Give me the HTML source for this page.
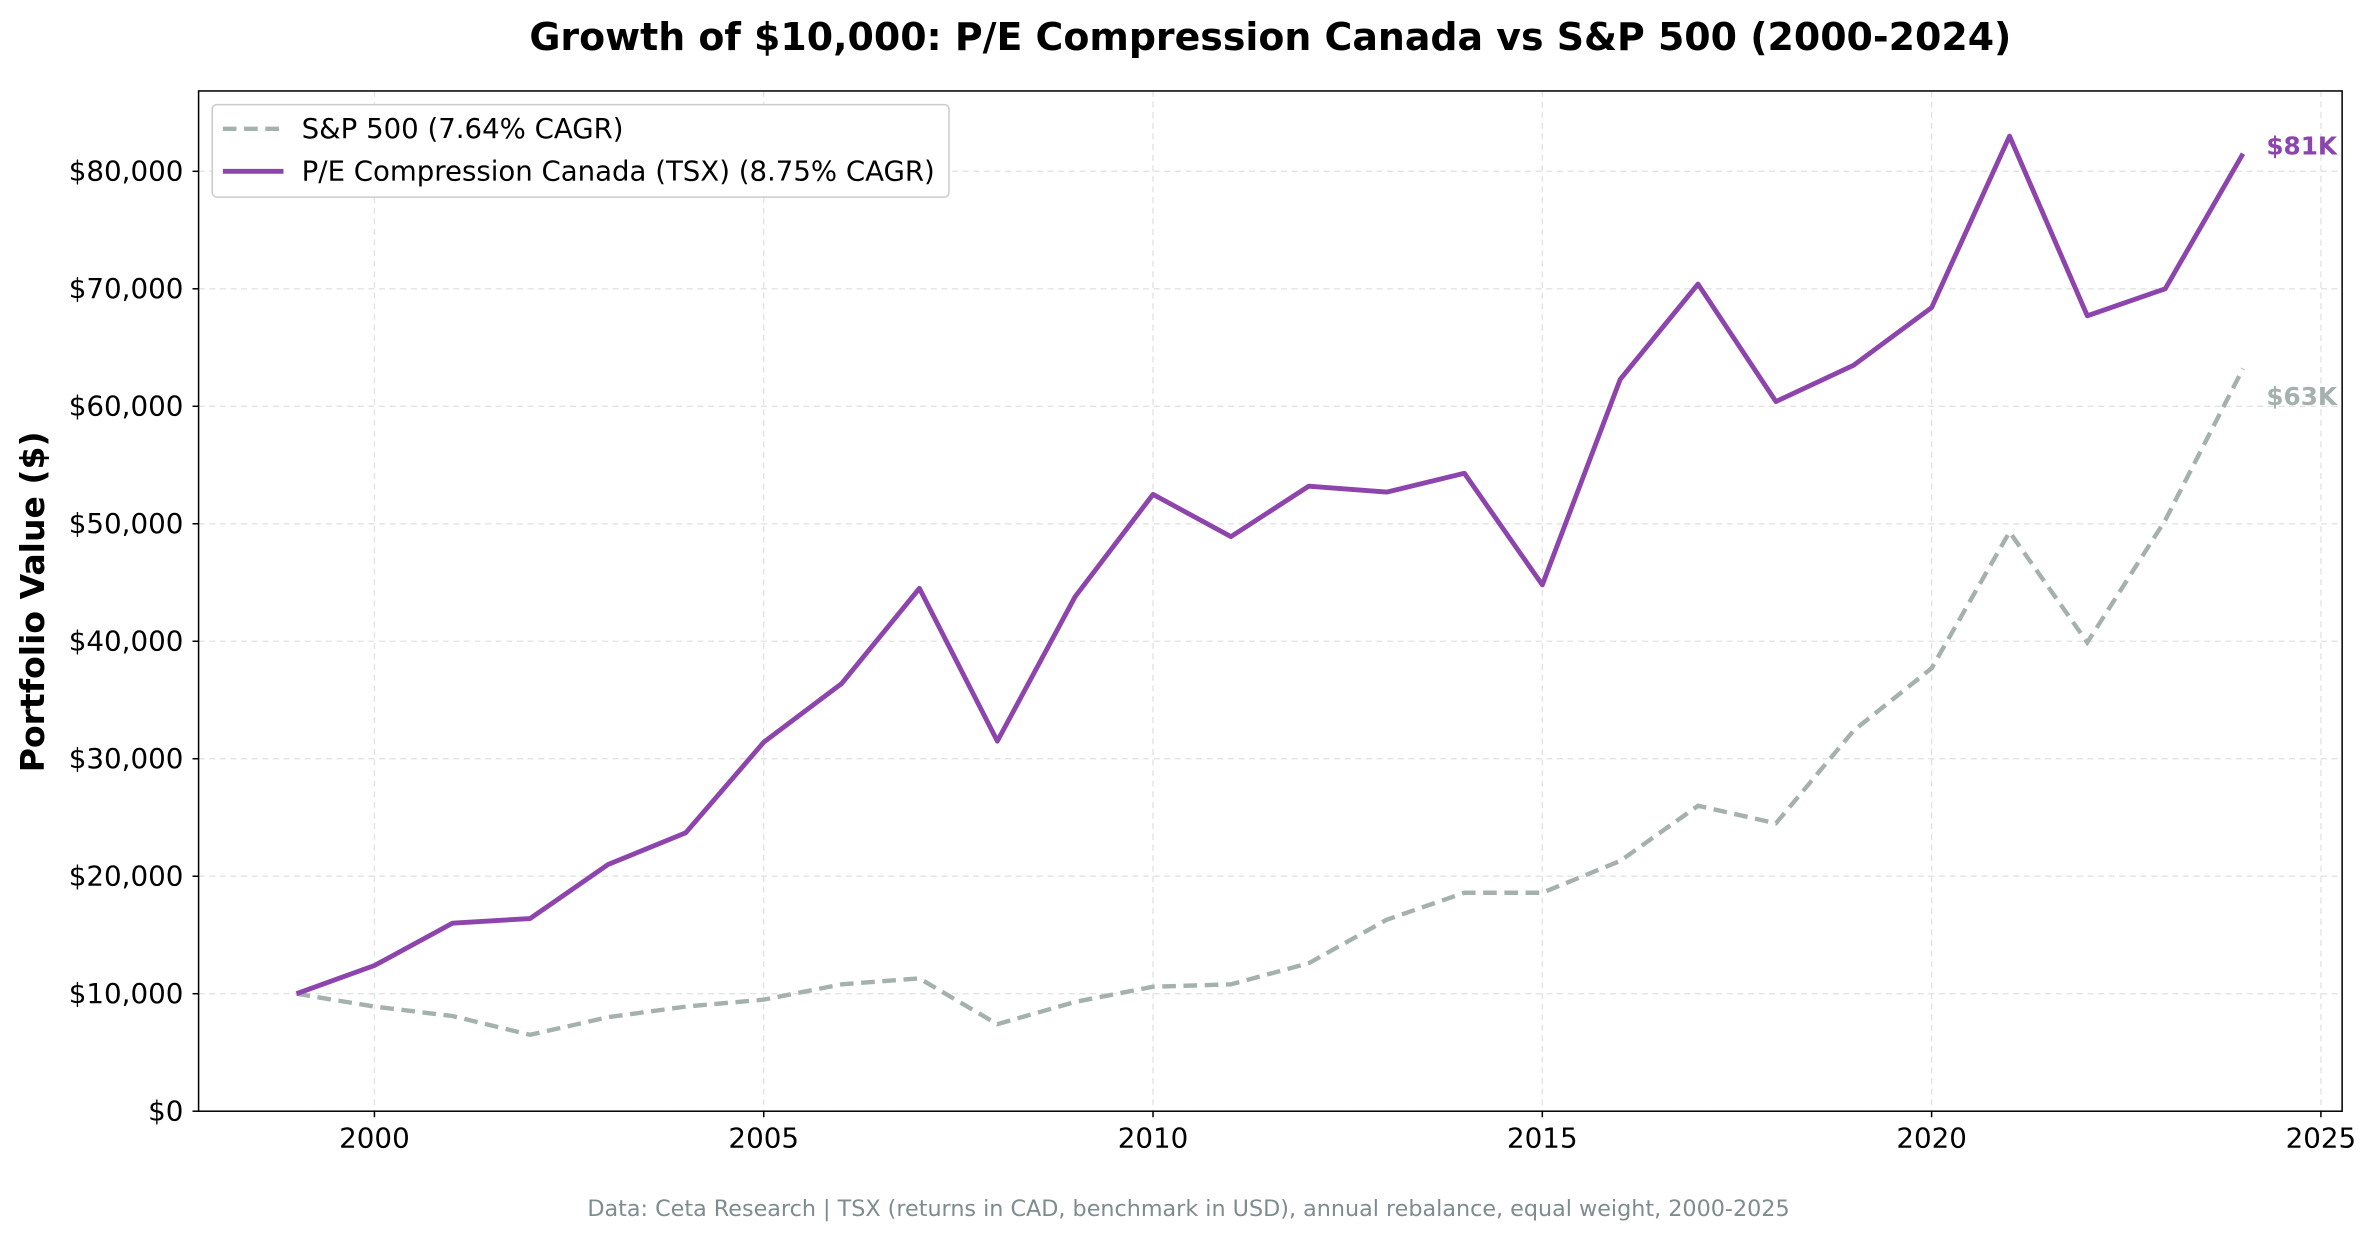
<!DOCTYPE html>
<html><head><meta charset="utf-8"><style>
html,body{margin:0;padding:0;background:#fff;}
svg{display:block;font-family:"DejaVu Sans","Liberation Sans",sans-serif;}
</style></head><body>
<svg id="s" width="2377" height="1239" viewBox="0 0 1568 817.3" preserveAspectRatio="none" xmlns="http://www.w3.org/2000/svg">
<rect width="1568" height="817.3" fill="#fff"/>
<text x="838" y="33" text-anchor="middle" font-size="25" font-weight="bold">Growth of $10,000: P/E Compression Canada vs S&amp;P 500 (2000-2024)</text>
<g id="grid" stroke="#e3e3e3" stroke-width="0.9" stroke-dasharray="4,3"></g>
<g id="ticks" font-size="18.3" fill="#000"></g>
<polyline id="sp" fill="none" stroke="#a5b1ae" stroke-width="2.9" stroke-dasharray="9,5"/>
<polyline id="tsx" fill="none" stroke="#8e44ad" stroke-width="3.2" stroke-linejoin="round"/>
<rect x="131" y="60" width="1414" height="673" fill="none" stroke="#000" stroke-width="1"/>
<text x="1495" y="102" font-size="16.3" font-weight="bold" fill="#8e44ad">$81K</text>
<text x="1495" y="267" font-size="16.3" font-weight="bold" fill="#a5b1ae">$63K</text>
<g>
<rect x="140" y="69" width="486" height="61" rx="3" fill="#fff" stroke="#ccc" stroke-width="1"/>
<line x1="147" y1="85" x2="187" y2="85" stroke="#a5b1ae" stroke-width="2.9" stroke-dasharray="9,5"/>
<text x="199" y="91" font-size="18.2">S&amp;P 500 (7.64% CAGR)</text>
<line x1="147" y1="113" x2="187" y2="113" stroke="#8e44ad" stroke-width="3.2"/>
<text x="199" y="119" font-size="18.2">P/E Compression Canada (TSX) (8.75% CAGR)</text>
</g>
<text transform="translate(29,397) rotate(-90)" text-anchor="middle" font-size="21.8" font-weight="bold">Portfolio Value ($)</text>
<text x="784" y="802" text-anchor="middle" font-size="14.7" fill="#7f8c8d">Data: Ceta Research | TSX (returns in CAD, benchmark in USD), annual rebalance, equal weight, 2000-2025</text>
</svg>
<script>
const X=y=>247+(y-2000)*51.36, Y=v=>733-v*0.00775;
const tsx=[10000,12400,16000,16400,21000,23700,31400,36400,44500,31500,43800,52500,48900,53200,52700,54300,44800,62300,70400,60400,63500,68400,83000,67700,70000,81500];
const sp=[10000,8900,8100,6500,8000,8900,9500,10800,11300,7400,9300,10600,10800,12600,16300,18600,18600,21300,26000,24500,32400,37700,49300,39900,50300,63200];
const pts=a=>a.map((v,i)=>X(1999+i).toFixed(1)+","+Y(v).toFixed(1)).join(" ");
document.getElementById("tsx").setAttribute("points",pts(tsx));
document.getElementById("sp").setAttribute("points",pts(sp));
const ns="http://www.w3.org/2000/svg",g=document.getElementById("grid"),t=document.getElementById("ticks");
function el(p,n,a,txt){const e=document.createElementNS(ns,n);for(const k in a)e.setAttribute(k,a[k]);if(txt)e.textContent=txt;p.appendChild(e);}
for(let y=2000;y<=2025;y+=5){const x=X(y);el(g,"line",{x1:x,x2:x,y1:60,y2:733});el(t,"line",{x1:x,x2:x,y1:733,y2:737,stroke:"#000"});el(t,"text",{x:x,y:757,"text-anchor":"middle"},String(y));}
for(let v=0;v<=80000;v+=10000){const y=Y(v);el(g,"line",{x1:131,x2:1545,y1:y,y2:y});el(t,"line",{x1:127,x2:131,y1:y,y2:y,stroke:"#000"});el(t,"text",{x:121,y:y+6,"text-anchor":"end"},"$"+v.toLocaleString("en-US"));}
</script>
</body></html>
